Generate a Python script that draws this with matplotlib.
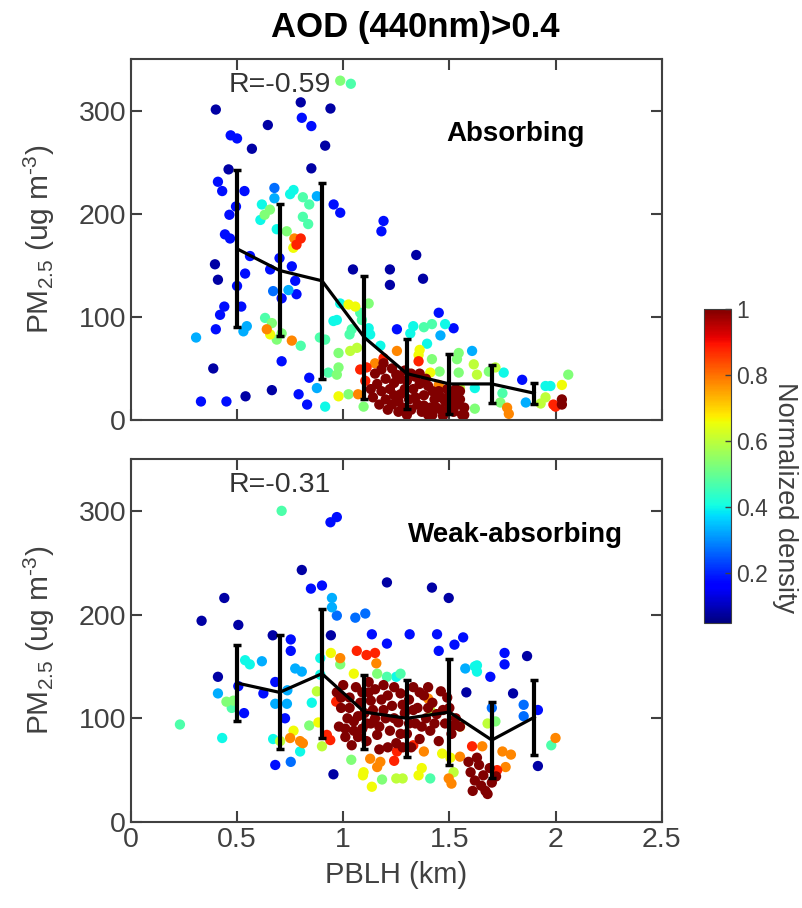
import numpy as np
import matplotlib
matplotlib.use('Agg')
import matplotlib.pyplot as plt
from matplotlib.colors import Normalize

plt.rcParams['font.family'] = ['Liberation Sans', 'DejaVu Sans']
plt.rcParams['mathtext.fontset'] = 'custom'
plt.rcParams['mathtext.rm'] = 'Liberation Sans'
plt.rcParams['mathtext.it'] = 'Liberation Sans:italic'

# ---------------- data ----------------
bin_centers = [0.5, 0.7, 0.9, 1.1, 1.3, 1.5, 1.7, 1.9]

top_mean = [166, 145, 135, 80, 45, 35, 35, 26]
top_std = [76, 64, 95, 60, 34, 29, 18, 10]
bot_mean = [134, 125, 143, 106, 100, 106, 79, 101]
bot_std = [37, 55, 62, 36, 37, 51, 37, 36]

# colour levels
lev_navy, lev_blue, lev_mblue, lev_lblue = 0.08, 0.18, 0.27, 0.33
lev_cyan, lev_aqua, lev_green, lev_ygreen = 0.40, 0.47, 0.53, 0.60
lev_yellow, lev_orange, lev_red, lev_dred = 0.66, 0.78, 0.88, 1.0

# ---- absorbing panel: (PBLH km, PM2.5) per colour level
top_navy = [(0.40, 301), (0.80, 308), (0.94, 302), (0.645, 286), (0.57, 263), (0.915, 266),
            (0.85, 244), (0.46, 243), (0.396, 151), (1.046, 146), (1.22, 146), (1.22, 131),
            (1.344, 160), (1.376, 137), (0.388, 50), (0.664, 29), (0.54, 23), (0.41, 136)]
top_blue = [(0.805, 293), (0.85, 285), (0.47, 276), (0.50, 273), (0.41, 231), (0.43, 222),
            (0.535, 222), (0.955, 209), (0.986, 201), (0.495, 207), (0.464, 199), (0.443, 180),
            (0.467, 176), (1.19, 193), (1.18, 183), (0.70, 157), (0.561, 159), (0.656, 146),
            (0.758, 149), (0.538, 142), (0.774, 135), (0.50, 130), (0.78, 122), (0.71, 118),
            (0.44, 110), (0.42, 102), (0.52, 110), (0.40, 88), (1.253, 88), (1.45, 104),
            (1.52, 89), (0.71, 57), (0.84, 41), (0.79, 25), (0.83, 15), (0.33, 18), (0.45, 18),
            (1.843, 39)]
top_mblue = [(0.676, 225), (0.67, 125)]
top_lblue = [(0.876, 217), (0.742, 126), (0.546, 91), (0.53, 86), (0.307, 80), (0.876, 31),
             (1.458, 82), (1.607, 67), (1.86, 17), (0.676, 215)]
top_cyan = [(0.766, 223), (0.75, 219), (0.617, 209), (0.61, 194), (0.687, 185), (0.986, 113),
            (0.954, 96), (0.97, 97), (1.12, 89), (1.127, 83), (1.175, 72), (0.915, 13),
            (1.33, 91), (1.316, 84), (1.48, 93), (1.395, 74), (1.62, 31), (1.756, 46),
            (1.953, 33), (1.976, 33)]
top_aqua = [(1.036, 326), (0.81, 216), (0.84, 209), (0.81, 197), (0.835, 190), (0.632, 99),
            (0.80, 72), (1.08, 104), (1.088, 97), (0.89, 80), (0.915, 78), (1.04, 88),
            (1.03, 83), (0.93, 46), (1.38, 90), (1.418, 93), (1.75, 26)]
top_green = [(0.986, 329), (0.655, 204), (0.63, 199), (0.734, 183), (0.664, 94), (0.71, 84),
             (0.687, 78), (1.12, 113), (0.978, 65), (0.978, 51), (0.97, 44), (1.025, 25),
             (1.096, 13), (1.418, 59), (1.454, 47), (1.544, 65), (1.536, 59), (1.544, 46),
             (1.62, 11), (1.686, 47), (1.74, 17), (2.06, 44)]
top_ygreen = [(1.033, 67), (1.065, 70), (1.55, 31), (1.615, 54), (1.63, 44), (1.717, 51),
              (1.953, 22), (1.93, 16)]
top_yellow = [(0.765, 167), (0.656, 83), (1.025, 112), (1.057, 110), (0.978, 23), (1.36, 68),
              (1.355, 63), (1.41, 46), (2.03, 34)]
top_orange = [(0.77, 176), (0.64, 88), (0.758, 77), (1.07, 25), (1.15, 55), (1.253, 67),
              (1.45, 34), (1.772, 12), (1.78, 6)]
top_red = [(0.80, 176), (0.78, 170), (1.08, 49), (1.11, 51), (1.104, 38), (1.19, 60),
           (1.355, 57), (1.99, 15), (2.0, 13)]
top_dred = [(1.15, 45), (1.18, 49), (1.20, 40), (1.16, 35), (1.22, 30), (1.18, 28), (1.14, 22),
            (1.20, 20), (1.25, 44), (1.24, 36), (1.27, 25), (1.23, 15), (1.28, 12), (1.30, 38),
            (1.31, 20), (1.26, 8), (1.33, 30), (1.35, 15), (1.34, 42), (1.29, 48), (1.37, 8),
            (1.38, 24), (1.40, 33), (1.41, 12), (1.43, 20), (1.36, 35), (1.42, 5), (1.45, 28),
            (1.39, 40), (1.46, 10), (1.48, 18), (1.50, 25), (1.52, 8), (1.54, 15), (1.55, 28),
            (1.57, 12), (1.49, 30), (1.47, 4), (1.53, 22), (1.56, 5), (2.03, 20), (2.03, 15),
            (1.13, 30), (1.17, 15), (1.21, 10), (1.19, 55), (1.23, 50), (1.27, 40), (1.29, 30),
            (1.32, 10), (1.34, 22), (1.36, 45), (1.38, 14), (1.40, 5), (1.42, 28), (1.44, 12),
            (1.46, 22), (1.48, 8), (1.50, 14), (1.51, 20), (1.53, 30), (1.55, 20), (1.57, 5),
            (1.24, 24), (1.26, 18), (1.30, 5), (1.32, 45)]

# ---- weak-absorbing panel
bot_navy = [(0.805, 243), (1.206, 231), (0.44, 216), (0.333, 194), (0.506, 190), (0.942, 180),
            (0.668, 180), (1.418, 226), (1.497, 216), (0.41, 140), (0.954, 46), (1.866, 160),
            (1.58, 125), (1.80, 124), (1.917, 54)]
bot_blue = [(0.94, 289), (0.97, 294), (0.848, 225), (0.90, 228), (1.135, 181), (1.206, 172),
            (0.753, 176), (0.753, 165), (1.313, 181), (1.442, 181), (1.565, 178), (1.524, 171),
            (1.45, 165), (1.76, 163), (1.76, 152), (0.506, 131), (0.68, 135), (0.624, 124),
            (0.533, 105), (0.726, 100), (0.68, 55), (1.693, 140), (1.917, 108)]
bot_mblue = [(0.97, 199), (1.057, 197), (1.104, 201), (0.753, 58), (1.85, 113), (1.85, 102),
             (1.70, 110)]
bot_lblue = [(0.947, 216), (0.947, 207), (0.617, 155), (0.41, 124), (0.774, 148), (0.805, 145),
             (0.737, 127), (0.68, 114), (0.735, 114), (1.575, 148)]
bot_cyan = [(0.538, 156), (0.56, 152), (0.892, 158), (1.62, 150), (0.852, 115), (0.892, 142),
            (0.43, 81), (0.67, 80), (0.797, 68), (1.25, 140), (1.63, 151), (1.63, 145)]
bot_aqua = [(0.71, 300), (0.475, 110), (0.231, 94), (1.206, 140), (1.27, 143), (1.41, 42),
            (1.98, 74)]
bot_green = [(0.986, 152), (0.45, 116), (0.483, 117), (0.84, 93), (1.038, 60), (1.183, 41),
             (1.16, 143), (1.717, 97)]
bot_ygreen = [(0.876, 126), (0.703, 78), (0.90, 73), (1.25, 42), (1.28, 42), (1.41, 108),
              (1.52, 48), (1.68, 95)]
bot_yellow = [(0.942, 163), (0.766, 88), (0.883, 96), (1.096, 48), (1.093, 45), (1.135, 34),
              (1.05, 143), (1.55, 92), (1.466, 66), (1.505, 62), (1.37, 52), (1.355, 45)]
bot_orange = [(0.986, 158), (1.156, 153), (0.75, 81), (0.797, 78), (0.81, 76), (1.127, 61),
              (1.175, 58), (1.16, 53), (1.40, 119), (1.38, 68), (2.0, 81), (1.55, 63),
              (1.75, 68), (1.79, 65), (1.765, 53), (1.497, 42), (1.51, 37), (1.655, 73)]
bot_red = [(1.064, 165), (1.11, 161), (1.15, 163), (0.923, 84), (0.939, 79), (0.967, 116),
           (1.24, 59), (1.33, 74), (1.253, 68), (1.607, 73), (1.725, 50)]
bot_dred = [(0.97, 125), (1.00, 132), (1.03, 120), (0.99, 110), (1.02, 100), (0.98, 92),
            (1.01, 82), (1.04, 74), (1.06, 130), (1.08, 115), (1.07, 102), (1.09, 90),
            (1.05, 88), (1.11, 78), (1.12, 125), (1.14, 108), (1.13, 95), (1.16, 84),
            (1.17, 70), (1.18, 118), (1.20, 100), (1.19, 132), (1.22, 88), (1.23, 112),
            (1.25, 76), (1.26, 96), (1.27, 124), (1.29, 105), (1.30, 85), (1.31, 118),
            (1.33, 130), (1.34, 95), (1.35, 110), (1.36, 80), (1.38, 122), (1.39, 100),
            (1.41, 88), (1.42, 115), (1.44, 104), (1.45, 78), (1.46, 126), (1.48, 95),
            (1.50, 110), (1.51, 85), (1.53, 100), (1.55, 92), (1.21, 72), (1.15, 128),
            (1.10, 105), (1.32, 72), (1.59, 58), (1.60, 48), (1.62, 40), (1.61, 30),
            (1.64, 55), (1.65, 35), (1.66, 45), (1.68, 27), (1.69, 52), (1.70, 38),
            (1.72, 44), (1.63, 62), (1.67, 30),
            (0.99, 120), (1.01, 90), (1.03, 110), (1.05, 97), (1.07, 82), (1.09, 125),
            (1.11, 95), (1.13, 117), (1.15, 100), (1.17, 92), (1.19, 108), (1.21, 122),
            (1.24, 100), (1.24, 130), (1.27, 85), (1.28, 113), (1.31, 95), (1.33, 108),
            (1.36, 125), (1.37, 92), (1.40, 110), (1.43, 95), (1.47, 108), (1.49, 120),
            (1.52, 93), (1.40, 130), (1.12, 135), (1.28, 72)]

top_groups = [(top_navy, lev_navy), (top_blue, lev_blue), (top_mblue, lev_mblue),
              (top_lblue, lev_lblue), (top_cyan, lev_cyan), (top_aqua, lev_aqua),
              (top_green, lev_green), (top_ygreen, lev_ygreen), (top_yellow, lev_yellow),
              (top_orange, lev_orange), (top_red, lev_red), (top_dred, lev_dred)]
bot_groups = [(bot_navy, lev_navy), (bot_blue, lev_blue), (bot_mblue, lev_mblue),
              (bot_lblue, lev_lblue), (bot_cyan, lev_cyan), (bot_aqua, lev_aqua),
              (bot_green, lev_green), (bot_ygreen, lev_ygreen), (bot_yellow, lev_yellow),
              (bot_orange, lev_orange), (bot_red, lev_red), (bot_dred, lev_dred)]

gray = '#404040'
norm = Normalize(vmin=0.05, vmax=1.0)


def flatten(groups):
    x, y, c = [], [], []
    for pts, lev in groups:
        for px, py in pts:
            x.append(px); y.append(py); c.append(lev)
    return np.array(x), np.array(y), np.array(c)


def panel(ax, groups, mean, std, rtxt, label):
    x, y, c = flatten(groups)
    order = np.argsort(c)
    sc = ax.scatter(x[order], y[order], c=c[order], cmap='jet', norm=norm,
                    s=55, linewidths=0, zorder=2)
    ax.errorbar(bin_centers, mean, yerr=std, color='k', lw=2.3, elinewidth=3,
                capsize=3, capthick=2.5, zorder=3)
    ax.set_xlim(0, 2.5)
    ax.set_ylim(0, 350)
    ax.set_yticks([0, 100, 200, 300])
    ax.set_xticks([0, 0.5, 1, 1.5, 2, 2.5])
    ax.tick_params(direction='in', length=8, width=1.5, top=True, right=True,
                   colors=gray, labelsize=20.5)
    for sp in ax.spines.values():
        sp.set_color(gray)
        sp.set_linewidth(1.5)
    ax.text(0.7, 325, rtxt, ha='center', va='center', fontsize=20.5, color='#333333')
    ax.text(1.81, 277, label, ha='center', va='center', fontsize=20,
            fontweight='bold', color='k')
    ax.set_ylabel(r'PM$_{2.5}$ (ug m$^{\text{-3}}$)', fontsize=21.5, color=gray)
    ax.yaxis.set_label_coords(-0.14, 0.5)
    return sc


fig = plt.figure(figsize=(8.03, 9.08), dpi=100)
ax1 = fig.add_axes([0.163, 0.5374, 0.661, 0.3976])
ax2 = fig.add_axes([0.163, 0.0947, 0.661, 0.3998])

sc = panel(ax1, top_groups, top_mean, top_std, 'R=-0.59', 'Absorbing')
panel(ax2, bot_groups, bot_mean, bot_std, 'R=-0.31', 'Weak-absorbing')
ax1.set_xticklabels([])
ax2.set_xticklabels(['0', '0.5', '1', '1.5', '2', '2.5'])
ax2.set_xlabel('PBLH (km)', fontsize=21, color=gray, labelpad=6)

fig.text(415 / 803, 1 - 27 / 908, 'AOD (440nm)>0.4', ha='center', va='center',
         fontsize=25, fontweight='bold')

cax = fig.add_axes([0.8767, 0.3139, 0.0336, 0.3458])
cb = fig.colorbar(sc, cax=cax, ticks=[0.2, 0.4, 0.6, 0.8, 1])
cb.set_ticklabels(['0.2', '0.4', '0.6', '0.8', '1'])
cb.ax.tick_params(direction='in', length=4, width=1, colors=gray, labelsize=16.5)
cb.outline.set_edgecolor(gray)
cax.text(3.0, 0.40, 'Normalized density', rotation=270, fontsize=19.5, color=gray,
         ha='center', va='center', transform=cax.transAxes)

fig.savefig('out.png', dpi=100)
